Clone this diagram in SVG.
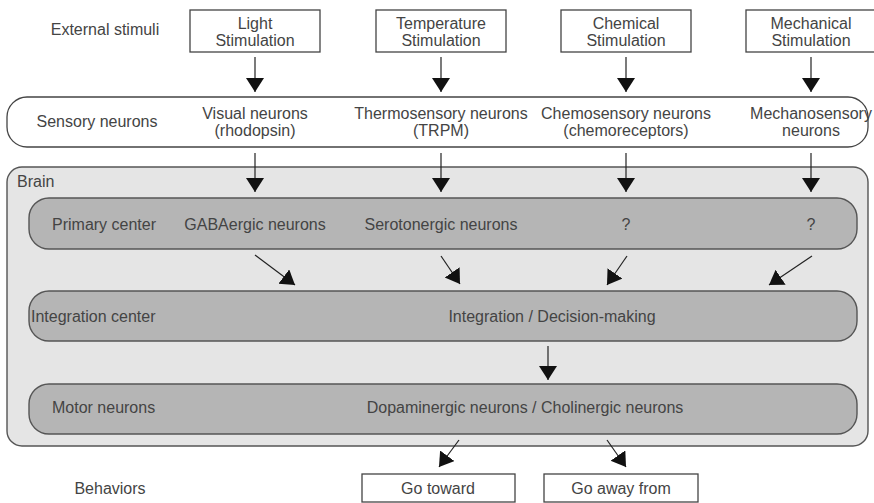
<svg xmlns="http://www.w3.org/2000/svg" width="874" height="503" viewBox="0 0 874 503">
<defs>
<marker id="ah" markerUnits="userSpaceOnUse" markerWidth="20" markerHeight="20" refX="14" refY="9" orient="auto">
<path d="M0,0 L14,9 L0,18 Z" fill="#111"/>
</marker>
<style>
text{font-family:"Liberation Sans",Arial,sans-serif;font-size:16px;fill:#444;}
.c{text-anchor:middle;}
.box{fill:#fff;stroke:#444;stroke-width:1.3;}
.band{fill:#b5b5b5;stroke:#555;stroke-width:1.4;}
.conn line{stroke:#222;stroke-width:1.2;marker-end:url(#ah);}
</style>
</defs>
<rect width="874" height="503" fill="#fff"/>

<g id="labels">
<text class="c" x="105" y="35">External stimuli</text>
<text class="c" x="110" y="494">Behaviors</text>
</g>

<g id="light"><rect class="box" x="190" y="10" width="130" height="42"/><text class="c" x="255" y="29">Light</text><text class="c" x="255" y="46">Stimulation</text></g>
<g id="temperature"><rect class="box" x="376" y="10" width="130" height="42"/><text class="c" x="441" y="29">Temperature</text><text class="c" x="441" y="46">Stimulation</text></g>
<g id="chemical"><rect class="box" x="561" y="10" width="130" height="42"/><text class="c" x="626" y="29">Chemical</text><text class="c" x="626" y="46">Stimulation</text></g>
<g id="mechanical"><rect class="box" x="746" y="10" width="130" height="42"/><text class="c" x="811" y="29">Mechanical</text><text class="c" x="811" y="46">Stimulation</text></g>

<g id="sensory">
<rect x="7" y="97" width="861" height="50" rx="20" ry="20" fill="#fff" stroke="#444" stroke-width="1.3"/>
<text class="c" x="97" y="127">Sensory neurons</text>
<text class="c" x="255" y="119">Visual neurons</text><text class="c" x="255" y="136">(rhodopsin)</text>
<text class="c" x="441" y="119">Thermosensory neurons</text><text class="c" x="441" y="136">(TRPM)</text>
<text class="c" x="626" y="119">Chemosensory neurons</text><text class="c" x="626" y="136">(chemoreceptors)</text>
<text class="c" x="811" y="119">Mechanosensory</text><text class="c" x="811" y="136">neurons</text>
</g>

<g id="brain">
<rect x="7" y="167" width="861" height="279" rx="15" ry="15" fill="#e5e5e5" stroke="#555" stroke-width="1.4"/>
<text x="17" y="187">Brain</text>
</g>

<g id="primary">
<rect class="band" x="29" y="198" width="828" height="51" rx="20" ry="20"/>
<text x="52" y="230">Primary center</text>
<text class="c" x="255" y="230">GABAergic neurons</text>
<text class="c" x="441" y="230">Serotonergic neurons</text>
<text class="c" x="626" y="230">?</text>
<text class="c" x="811" y="230">?</text>
</g>

<g id="integration">
<rect class="band" x="29" y="291" width="828" height="50" rx="20" ry="20"/>
<text x="31" y="322">Integration center</text>
<text class="c" x="552" y="322">Integration / Decision-making</text>
</g>

<g id="motor">
<rect class="band" x="29" y="384" width="828" height="50" rx="20" ry="20"/>
<text x="52" y="413">Motor neurons</text>
<text class="c" x="525" y="413">Dopaminergic neurons / Cholinergic neurons</text>
</g>

<g id="toward"><rect class="box" x="362" y="474" width="153" height="28"/><text class="c" x="438" y="494">Go toward</text></g>
<g id="away"><rect class="box" x="544" y="474" width="154" height="28"/><text class="c" x="621" y="494">Go away from</text></g>

<g id="connectors" class="conn">
<line x1="255" y1="57" x2="255" y2="92"/>
<line x1="441" y1="57" x2="441" y2="92"/>
<line x1="626" y1="57" x2="626" y2="92"/>
<line x1="811" y1="57" x2="811" y2="92"/>
<line x1="255" y1="153" x2="255" y2="192"/>
<line x1="441" y1="153" x2="441" y2="192"/>
<line x1="626" y1="153" x2="626" y2="192"/>
<line x1="811" y1="153" x2="811" y2="192"/>
<line x1="255" y1="255" x2="295" y2="285"/>
<line x1="441" y1="256" x2="460" y2="284"/>
<line x1="627" y1="256" x2="607" y2="285"/>
<line x1="812" y1="256" x2="769" y2="285"/>
<line x1="548" y1="346" x2="548" y2="380"/>
<line x1="459" y1="440" x2="439" y2="467"/>
<line x1="607" y1="440" x2="626" y2="467"/>
</g>
</svg>
